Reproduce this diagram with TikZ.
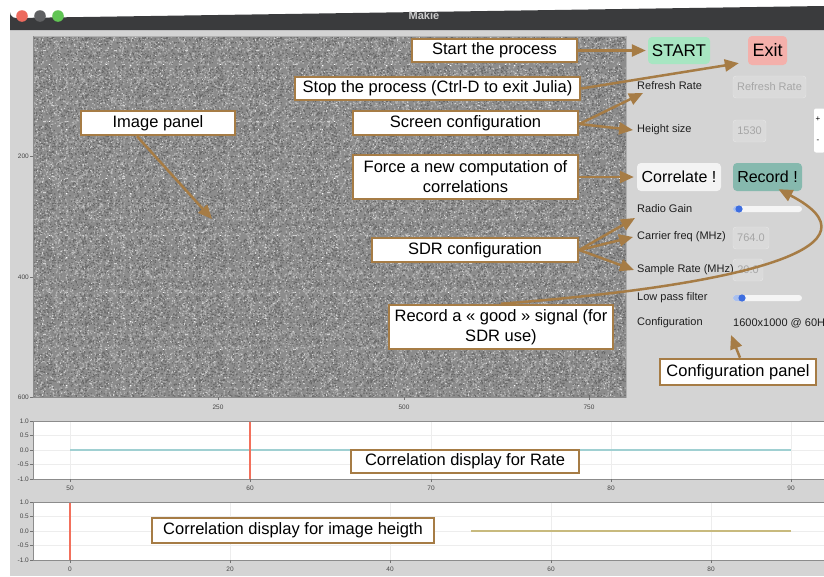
\documentclass[tikz,border=0pt]{standalone}
\usepackage{fontspec}
\setmainfont{Liberation Sans}
\usetikzlibrary{arrows.meta,patterns}

\definecolor{brownline}{RGB}{166,124,69}
\definecolor{titlebar}{RGB}{58,59,61}
\definecolor{titletext}{RGB}{205,205,205}
\definecolor{winbg}{RGB}{212,212,212}
\definecolor{noisebase}{RGB}{140,140,140}
\definecolor{noiselight}{RGB}{180,180,180}
\definecolor{noisedark}{RGB}{104,104,104}
\definecolor{noisewhite}{RGB}{212,212,212}
\definecolor{lightred}{RGB}{237,106,94}
\definecolor{lightgrey}{RGB}{96,97,99}
\definecolor{lightgreen}{RGB}{97,197,84}
\definecolor{startgreen}{RGB}{167,230,194}
\definecolor{exitred}{RGB}{244,176,171}
\definecolor{corrwhite}{RGB}{243,243,243}
\definecolor{recteal}{RGB}{134,185,174}
\definecolor{ratecyan}{RGB}{160,208,210}
\definecolor{heightolive}{RGB}{200,186,126}
\definecolor{markred}{RGB}{242,112,92}
\definecolor{sliderblue}{RGB}{62,110,224}
\definecolor{sliderfill}{RGB}{170,192,238}

% speckle tiles for the noise image
\pgfmathsetseed{20231}
\newcommand\specktile[3]{% size, count, speck size
  \foreach \k in {1,...,#2}{%
    \pgfmathsetmacro\sx{(#1-#3)*rnd}%
    \pgfmathsetmacro\sy{(#1-#3)*rnd}%
    \pgfpathrectangle{\pgfpoint{\sx pt}{\sy pt}}{\pgfpoint{#3pt}{#3pt}}%
    \pgfusepath{fill}}}
\pgfdeclarepatternformonly{specklight}{\pgfpointorigin}{\pgfpoint{64pt}{64pt}}{\pgfpoint{64pt}{64pt}}{\specktile{64}{520}{1.2}}
\pgfdeclarepatternformonly{speckdark}{\pgfpointorigin}{\pgfpoint{57pt}{57pt}}{\pgfpoint{57pt}{57pt}}{\specktile{57}{380}{1.2}}
\pgfdeclarepatternformonly{speckwhite}{\pgfpointorigin}{\pgfpoint{71pt}{71pt}}{\pgfpoint{71pt}{71pt}}{\specktile{71}{140}{1.1}}

\tikzset{
  note/.style={draw=brownline, line width=2.6pt, fill=white, inner sep=0pt,
    align=center, font=\fontsize{16.5}{20}\selectfont},
  arr/.style={draw=brownline, line width=2.5pt,
    -{Triangle[length=14pt,width=12pt]}},
  btn/.style={rounded corners=4pt, inner sep=0pt, font=\fontsize{16}{18}\selectfont},
  lbl/.style={anchor=west, inner sep=0pt, text=black!88, font=\fontsize{11}{13}\selectfont},
  field/.style={draw=black!9, rounded corners=3pt, fill=winbg!85!white, inner sep=0pt,
    text=black!35, font=\fontsize{11}{13}\selectfont},
  ticklbl/.style={inner sep=0pt, text=black!72, font=\fontsize{6.5}{7}\selectfont},
  spine/.style={draw=black!45, line width=1pt},
  gridln/.style={draw=black!7, line width=0.8pt},
  track/.style={fill=black!4, rounded corners=3pt},
}

\begin{document}
\begin{tikzpicture}[x=1pt, y=-1pt]
\useasboundingbox (0,0) rectangle (824,576);
\fill[white] (0,0) rectangle (824,576);

% window and title bar
\fill[winbg] (10,30) rectangle (824,576);
\fill[titlebar] (10,30) -- (10,12) arc[start angle=180, end angle=90, radius=6] -- (824,6) -- (824,30) -- cycle;
\fill[lightred] (22,16) circle[radius=5.8];
\fill[lightgrey] (40,16) circle[radius=5.8];
\fill[lightgreen] (58,16) circle[radius=5.8];
\node[text=titletext, font=\bfseries\fontsize{11}{13}\selectfont] (title) at (424,16) {Makie};

% image panel: noise
\fill[noisebase] (33,36) rectangle (626,397);
\fill[pattern=specklight, pattern color=noiselight] (33,36) rectangle (626,397);
\fill[pattern=speckdark, pattern color=noisedark] (33,36) rectangle (626,397);
\fill[pattern=speckwhite, pattern color=noisewhite] (33,36) rectangle (626,397);
\draw[draw=black!30, line width=0.8pt] (33,36) rectangle (626,397);
\draw[spine] (33,36) -- (33,397) -- (626,397);
\foreach \yy/\tt in {156/200, 277/400, 397/600} {
  \draw[black!55, line width=0.6pt] (30,\yy) -- (33,\yy);
  \node[ticklbl, anchor=east] at (29,\yy) {\tt};
}
\foreach \xx/\tt in {218/250, 404/500, 589/750} {
  \draw[black!55, line width=0.6pt] (\xx,397) -- (\xx,400);
  \node[ticklbl] at (\xx,407) {\tt};
}

% correlation plot for rate
\fill[white] (33,421) rectangle (824,479);
\foreach \xx in {70,250,431,611,791} \draw[gridln] (\xx,421) -- (\xx,479);
\foreach \yy in {435,450,464} \draw[gridln] (33,\yy) -- (824,\yy);
\draw[ratecyan, line width=1.8pt] (70,450) -- (791,450);
\draw[markred, line width=1.3pt] (250,421) -- (250,479);
\draw[spine] (33,421) -- (824,421);
\draw[spine] (33,421) -- (33,479) -- (824,479);
\foreach \yy/\tt in {421/1.0, 435/0.5, 450/0.0, 464/-0.5, 479/-1.0} {
  \draw[black!55, line width=0.6pt] (30,\yy) -- (33,\yy);
  \node[ticklbl, anchor=east] at (29,\yy) {\tt};
}
\foreach \xx/\tt in {70/50, 250/60, 431/70, 611/80, 791/90} {
  \draw[black!55, line width=0.6pt] (\xx,479) -- (\xx,482);
  \node[ticklbl] at (\xx,488) {\tt};
}

% correlation plot for image height
\fill[white] (33,502) rectangle (824,560);
\foreach \xx in {70,230,390,551,711} \draw[gridln] (\xx,502) -- (\xx,560);
\foreach \yy in {516,531,545} \draw[gridln] (33,\yy) -- (824,\yy);
\draw[heightolive, line width=1.5pt] (471,531) -- (791,531);
\draw[markred, line width=1.3pt] (70,502) -- (70,560);
\draw[spine] (33,502) -- (824,502);
\draw[spine] (33,502) -- (33,560) -- (824,560);
\foreach \yy/\tt in {502/1.0, 516/0.5, 531/0.0, 545/-0.5, 560/-1.0} {
  \draw[black!55, line width=0.6pt] (30,\yy) -- (33,\yy);
  \node[ticklbl, anchor=east] at (29,\yy) {\tt};
}
\foreach \xx/\tt in {70/0, 230/20, 390/40, 551/60, 711/80} {
  \draw[black!55, line width=0.6pt] (\xx,560) -- (\xx,563);
  \node[ticklbl] at (\xx,569) {\tt};
}

% configuration panel widgets
\node[btn, fill=startgreen, minimum width=62pt, minimum height=27pt,
  font=\fontsize{17}{19}\selectfont] (bstart) at (679,50.5) {START};
\node[btn, fill=exitred, minimum width=39pt, minimum height=29pt,
  font=\fontsize{18}{20}\selectfont] (bexit) at (767.5,50.5) {Exit};

\node[lbl] (lrefresh) at (637,86) {Refresh Rate};
\node[field, minimum width=73pt, minimum height=22pt] (frefresh) at (769.5,87) {Refresh Rate};

\node[lbl] (lheight) at (637,130) {Height size};
\node[field, minimum width=33pt, minimum height=22pt] (fheight) at (749.5,131) {1530};
\node[fill=white, rounded corners=2pt, minimum width=11pt, minimum height=44pt,
  inner sep=0pt] (pm) at (819.5,130.5) {};
\node[inner sep=0pt, font=\fontsize{8}{9}\selectfont] (plus) at (818,119) {+};
\node[inner sep=0pt, font=\fontsize{8}{9}\selectfont] (minus) at (818,141) {-};

\node[btn, fill=corrwhite, minimum width=84pt, minimum height=28pt] (bcorr) at (679,177) {Correlate !};
\node[btn, fill=recteal, minimum width=69pt, minimum height=28pt] (brec) at (767.5,177) {Record !};

\node[lbl] (lgain) at (637,209) {Radio Gain};
\fill[track] (733,206) rectangle (802,212);
\fill[sliderfill, rounded corners=3pt] (733,206) rectangle (741,212);
\fill[sliderblue] (739,209) circle[radius=3.6];

\node[lbl] (lcarrier) at (637,237) {Carrier freq (MHz)};
\node[field, minimum width=36pt, minimum height=22pt] (fcarrier) at (751,238) {764.0};

\node[field, minimum width=30pt, minimum height=22pt] (fsample) at (748,270) {20.0};
\node[lbl] (lsample) at (637,270) {Sample Rate (MHz)};

\node[lbl] (llowpass) at (637,298) {Low pass filter};
\fill[track] (733,295) rectangle (802,301);
\fill[sliderfill, rounded corners=3pt] (733,295) rectangle (744,301);
\fill[sliderblue] (742,298) circle[radius=3.6];

\node[lbl] (lconfig) at (637,323) {Configuration};
\node[lbl] (lconfval) at (733,323) {1600x1000 @ 60H};

% annotation boxes
\node[note, minimum width=165pt, minimum height=23pt] (nstart) at (494.5,50.5) {Start the process};
\node[note, minimum width=285pt, minimum height=23pt] (nstop) at (437.5,88.5) {Stop the process (Ctrl-D to exit Julia)};
\node[note, minimum width=154pt, minimum height=24pt] (nimg) at (158,123) {Image panel};
\node[note, minimum width=225pt, minimum height=24pt] (nscreen) at (465.5,123) {Screen configuration};
\node[note, minimum width=225pt, minimum height=44pt] (nforce) at (465.5,177) {Force a new computation of\\correlations};
\node[note, minimum width=206pt, minimum height=24pt] (nsdr) at (475,250) {SDR configuration};
\node[note, minimum width=224pt, minimum height=44pt] (nrec) at (501,327) {Record a « good » signal (for\\SDR use)};
\node[note, minimum width=156pt, minimum height=26pt] (nconf) at (738,372) {Configuration panel};
\node[note, minimum width=228pt, minimum height=23pt] (nrate) at (465,461.5) {Correlation display for Rate};
\node[note, minimum width=282pt, minimum height=25pt] (nheight) at (293,530.5) {Correlation display for image heigth};

% arrow targets
\coordinate (imgpt) at (212,219);
\coordinate (confpt) at (731,335);

% connectors
\draw[arr] (nstart.east) -- ([xshift=-2pt]bstart.west);
\draw[arr] (nstop.east) -- ([shift={(-9,-2)}]bexit.south west);
\draw[arr] ([yshift=-1pt]nscreen.east) -- ([shift={(6,7)}]lrefresh.west);
\draw[arr] ([yshift=-1pt]nscreen.east) -- ([xshift=-4pt]lheight.west);
\draw[arr] (nforce.east) -- ([xshift=-3pt]bcorr.west);
\draw[arr] ([xshift=-21pt]nimg.south) -- (imgpt);
\draw[arr] (nsdr.east) -- ([shift={(-2,9)}]lgain.west);
\draw[arr] (nsdr.east) -- ([xshift=-4pt]lcarrier.west);
\draw[arr] (nsdr.east) -- ([xshift=-3pt]lsample.west);
\draw[arr] ([xshift=2pt]nconf.north) -- (confpt);
\draw[arr] (nrec.north) .. controls (760,284) and (884,244) .. ([xshift=11pt,yshift=2pt]brec.south);
\end{tikzpicture}
\end{document}
